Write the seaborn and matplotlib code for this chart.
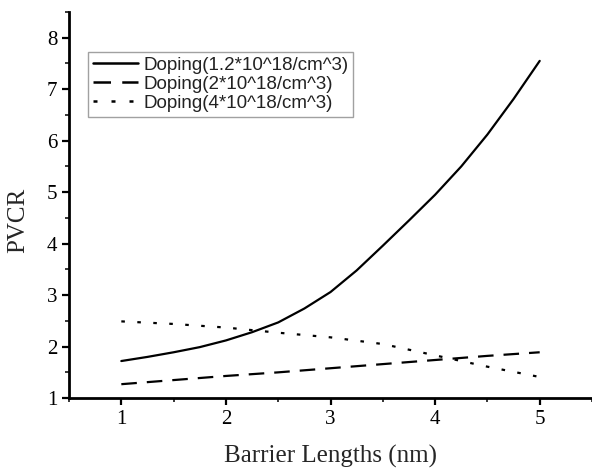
import numpy as np
import pandas as pd
import matplotlib
matplotlib.use("Agg")
import matplotlib.pyplot as plt
import seaborn as sns
from matplotlib.ticker import MultipleLocator

# Barrier lengths (nm) and PVCR for three doping levels
barrier_fine = [1.0, 1.25, 1.5, 1.75, 2.0, 2.25, 2.5, 2.75, 3.0,
                3.25, 3.5, 3.75, 4.0, 4.25, 4.5, 4.75, 5.0]
pvcr_doping_1p2 = [1.72, 1.80, 1.89, 1.99, 2.12, 2.28, 2.47, 2.74, 3.06,
                   3.48, 3.96, 4.45, 4.95, 5.50, 6.12, 6.81, 7.55]

barrier_nm = [1.0, 1.5, 2.0, 2.5, 3.0, 3.5, 4.0, 4.5, 5.0]
pvcr_doping_2 = [1.27, 1.35, 1.43, 1.50, 1.58, 1.66, 1.74, 1.82, 1.89]
pvcr_doping_4 = [2.49, 2.44, 2.37, 2.27, 2.18, 2.05, 1.83, 1.61, 1.41]

labels = ["Doping(1.2*10^18/cm^3)", "Doping(2*10^18/cm^3)", "Doping(4*10^18/cm^3)"]

df = pd.concat([
    pd.DataFrame({"length": barrier_fine, "pvcr": pvcr_doping_1p2, "series": labels[0]}),
    pd.DataFrame({"length": barrier_nm, "pvcr": pvcr_doping_2, "series": labels[1]}),
    pd.DataFrame({"length": barrier_nm, "pvcr": pvcr_doping_4, "series": labels[2]}),
])

sns.set_style("ticks")
plt.rcParams["font.family"] = ["Liberation Serif", "DejaVu Serif"]

fig = plt.figure(figsize=(5.92, 4.70), dpi=100)
ax = fig.add_axes([0.1166, 0.153, 0.8834, 0.8215])

sns.lineplot(
    data=df, x="length", y="pvcr", hue="series", style="series",
    palette=["black"] * 3,
    dashes={labels[0]: "", labels[1]: (7, 4.5), labels[2]: (1.6, 5.6)},
    linewidth=1.6, ax=ax, legend=True,
)

ax.set_xlim(0.5, 5.5)
ax.set_ylim(1, 8.5)
ax.xaxis.set_major_locator(MultipleLocator(1))
ax.xaxis.set_minor_locator(MultipleLocator(0.5))
ax.yaxis.set_major_locator(MultipleLocator(1))
ax.yaxis.set_minor_locator(MultipleLocator(0.5))
ax.set_xticks([1, 2, 3, 4, 5])

for side in ("top", "right"):
    ax.spines[side].set_visible(False)
for side in ("left", "bottom"):
    ax.spines[side].set_linewidth(2.0)
    ax.spines[side].set_color("black")

ax.tick_params(which="major", direction="out", length=5, width=1.6, labelsize=15,
               colors="black", pad=3.5)
ax.tick_params(which="minor", direction="out", length=3, width=1.3)

ax.set_xlabel("Barrier Lengths (nm)", fontsize=18)
ax.set_ylabel("PVCR", fontsize=18)
ax.xaxis.set_label_coords(0.5, -0.12)
ax.yaxis.set_label_coords(-0.076, 0.461)

leg = ax.legend(
    loc="upper left", bbox_to_anchor=(0.036, 0.896), frameon=True, fancybox=False,
    prop={"family": ["Liberation Sans", "DejaVu Sans"], "size": 13.5},
    handlelength=2.4, handletextpad=0.3, borderpad=0.25, labelspacing=0.1,
    borderaxespad=0,
)
leg.get_frame().set_edgecolor("#8a8a8a")
leg.get_frame().set_linewidth(1.0)
for t in leg.get_texts():
    t.set_color("#222222")
for h in leg.get_lines():
    h.set_linewidth(1.8)

fig.savefig("out.png", dpi=100)
